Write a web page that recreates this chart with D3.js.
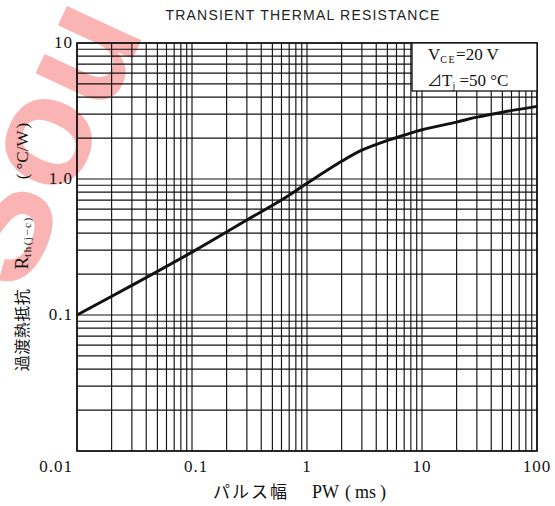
<!DOCTYPE html>
<html><head><meta charset="utf-8">
<script src="https://cdn.jsdelivr.net/npm/d3@7"></script>
<style>
html,body{margin:0;padding:0;background:#fff;}
svg{display:block;}
</style></head>
<body>
<svg id="chart" width="555" height="506"></svg>
<script>
// ---- data ----
const pulseWidth = [0.01, 0.03, 0.1, 0.3, 0.6, 1, 2, 3, 5, 7, 10, 20, 30, 50, 100];
const rth        = [0.10, 0.165, 0.29, 0.50, 0.70, 0.93, 1.35, 1.63, 1.92, 2.1, 2.3, 2.62, 2.85, 3.1, 3.42];
const xTickValues = [0.01, 0.1, 1, 10, 100];
const xTickLabels = ["0.01", "0.1", "1", "10", "100"];
const yTickValues = [10, 1, 0.1];
const yTickLabels = ["10", "1.0", "0.1"];
const title = "TRANSIENT THERMAL RESISTANCE";

const svg = d3.select("#chart");
const L = 77, R = 537, T = 43, B = 451;
const x = d3.scaleLog().domain([0.01, 100]).range([L, R]);
const y = d3.scaleLog().domain([0.01, 10]).range([B, T]);

// watermark (partially outside the picture, as in the reference)
svg.append("text")
  .attr("transform", "translate(22,296) rotate(-65)")
  .attr("font-family", "Liberation Sans, Arial, sans-serif")
  .attr("font-weight", "bold")
  .attr("font-size", 155)
  .attr("fill", "#fbb4b4")
  .text("Sou");

// grid
const minor = [];
for (let e = -2; e < 2; e++) for (let m = 1; m <= 9; m++) minor.push(m * Math.pow(10, e));
minor.push(100);
const minorY = [];
for (let e = -2; e < 1; e++) for (let m = 1; m <= 9; m++) minorY.push(m * Math.pow(10, e));
minorY.push(10);

const g = svg.append("g");
g.selectAll("line.vx").data(minor).join("line")
  .attr("x1", d => x(d)).attr("x2", d => x(d))
  .attr("y1", T).attr("y2", B)
  .attr("stroke", "#111").attr("stroke-width", 1.15);
g.selectAll("line.hy").data(minorY).join("line")
  .attr("y1", d => y(d)).attr("y2", d => y(d))
  .attr("x1", L).attr("x2", R)
  .attr("stroke", "#111").attr("stroke-width", 1.15);
g.append("rect").attr("x", L).attr("y", T).attr("width", R - L).attr("height", B - T)
  .attr("fill", "none").attr("stroke", "#111").attr("stroke-width", 1.6);

// curve
const line = d3.line().x((d, i) => x(pulseWidth[i])).y(d => y(d)).curve(d3.curveCatmullRom.alpha(0.5));
svg.append("path").attr("d", line(rth))
  .attr("fill", "none").attr("stroke", "#111").attr("stroke-width", 3);

// legend box
svg.append("rect").attr("x", 412).attr("y", T).attr("width", R - 412).attr("height", 48)
  .attr("fill", "#fff").attr("stroke", "#111").attr("stroke-width", 1.3);
const lg = svg.append("g").attr("font-family", "Liberation Serif, serif").attr("fill", "#111").attr("font-size", 17);
const t1 = lg.append("text").attr("x", 428).attr("y", 60);
t1.append("tspan").text("V");
t1.append("tspan").attr("font-size", 10).attr("dy", 3).attr("letter-spacing", 1.5).text("CE");
t1.append("tspan").attr("dy", -3).text("=20  V");
const t2 = lg.append("text").attr("x", 427).attr("y", 86);
t2.append("tspan").attr("font-family", "Noto Sans CJK JP").attr("font-size", 15).text("⊿");
t2.append("tspan").text("T");
t2.append("tspan").attr("font-size", 10).attr("dy", 3).text("j");
t2.append("tspan").attr("dy", -3).text(" =50  °C");

// tick labels
const tk = svg.append("g").attr("font-family", "Liberation Serif, serif").attr("font-size", 17).attr("fill", "#111");
tk.selectAll("text.xt").data(xTickValues).join("text")
  .attr("x", (d, i) => i === 0 ? x(d) - 4 : x(d) + (i === 1 ? 4 : 0))
  .attr("y", 472)
  .attr("text-anchor", (d, i) => i === 0 ? "end" : "middle")
  .attr("letter-spacing", 1)
  .text((d, i) => xTickLabels[i]);
tk.selectAll("text.yt").data(yTickValues).join("text")
  .attr("x", 73).attr("y", d => y(d) + 5)
  .attr("text-anchor", "end")
  .attr("letter-spacing", 1)
  .text((d, i) => yTickLabels[i]);

// title
svg.append("text").attr("x", 303).attr("y", 20).attr("text-anchor", "middle")
  .attr("font-family", "Liberation Sans, Arial, sans-serif").attr("font-size", 14)
  .attr("letter-spacing", 1.2).attr("fill", "#222").text(title);

// x label
svg.append("text").attr("x", 213).attr("y", 498)
  .attr("font-family", "Noto Sans CJK JP").attr("font-size", 17).attr("letter-spacing", 2)
  .attr("fill", "#111").text("パルス幅");
svg.append("text").attr("x", 312).attr("y", 498)
  .attr("font-family", "Liberation Serif, serif").attr("font-size", 18)
  .attr("fill", "#111").text("PW");
const ms = svg.append("text").attr("x", 345).attr("y", 498)
  .attr("font-family", "Liberation Serif, serif").attr("font-size", 18)
  .attr("fill", "#111");
ms.append("tspan").text("(");
ms.append("tspan").attr("dx", 4).text("ms");
ms.append("tspan").attr("dx", 4).text(")");

// y label (three parts, rotated)
svg.append("text").attr("transform", "translate(28,330) rotate(-90)").attr("text-anchor", "middle")
  .attr("font-family", "Noto Sans CJK JP").attr("font-size", 16).attr("letter-spacing", 0.5)
  .attr("fill", "#111").text("過渡熱抵抗");
const yr = svg.append("text").attr("transform", "translate(28,243) rotate(-90)").attr("text-anchor", "middle")
  .attr("font-family", "Liberation Serif, serif").attr("fill", "#111");
yr.append("tspan").attr("font-size", 19).text("R");
yr.append("tspan").attr("font-size", 11).attr("dy", 3).attr("letter-spacing", 1.5).text("th(j−c)");
const yu = svg.append("text").attr("transform", "translate(28,151) rotate(-90)").attr("text-anchor", "middle")
  .attr("font-family", "Liberation Serif, serif").attr("font-size", 17)
  .attr("fill", "#111");
yu.append("tspan").text("(");
yu.append("tspan").attr("dx", 4).text("°C/W");
yu.append("tspan").attr("dx", 2).text(")");
</script>
</body></html>
